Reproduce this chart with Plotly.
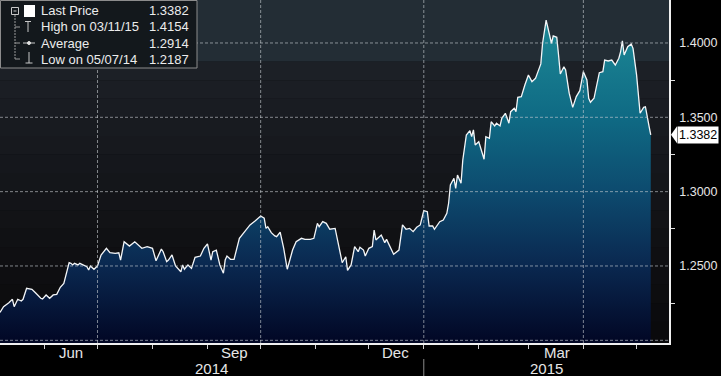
import numpy as np
import pandas as pd
import plotly.graph_objects as go

# ---------------- data ----------------
base_date = "2014-05-07"
# days since base_date
day_offsets = [
    0, 2, 5, 7, 8, 10, 12, 13, 15, 18,
    20, 23, 24, 26, 28, 30, 32, 34, 36, 39,
    40, 41, 42, 44, 45, 47, 49, 50, 51, 53,
    55, 57, 60, 62, 65, 67, 68, 70, 73, 76,
    77, 80, 83, 86, 88, 91, 92, 94, 95, 97,
    99, 102, 103, 104, 106, 108, 110, 113, 115, 117,
    119, 120, 122, 124, 126, 127, 128, 130, 132, 134,
    135, 138, 141, 144, 147, 149, 150, 151, 153, 155,
    156, 158, 160, 162, 165, 167, 170, 172, 175, 177,
    179, 180, 182, 184, 186, 189, 191, 193, 195, 196,
    198, 200, 202, 203, 205, 206, 208, 210, 211, 212,
    215, 217, 218, 220, 222, 225, 226, 227, 229, 231,
    233, 235, 237, 239, 241, 242, 244, 245, 248, 250,
    252, 253, 254, 256, 257, 258, 260, 261, 263, 265,
    266, 267, 268, 270, 272, 273, 274, 276, 277, 279,
    280, 282, 283, 285, 287, 288, 290, 291, 292, 294,
    296, 298, 300, 302, 305, 306, 308, 311, 312, 314,
    315, 316, 318, 319, 321, 323, 325, 327, 329, 331,
    332, 333, 335, 337, 338, 340, 341, 343, 345, 347,
    349, 350, 351, 352, 354, 356, 357, 359, 361, 363,
    364, 366, 367,
]
price = [
    1.2187, 1.2226, 1.2253, 1.2276, 1.2226, 1.2276, 1.2264, 1.2276, 1.2350, 1.2343,
    1.2320, 1.2283, 1.2278, 1.2305, 1.2283, 1.2305, 1.2309, 1.2357, 1.2383, 1.2522,
    1.2518, 1.2507, 1.2518, 1.2507, 1.2518, 1.2507, 1.2495, 1.2473, 1.2500, 1.2478,
    1.2500, 1.2574, 1.2619, 1.2589, 1.2585, 1.2589, 1.2540, 1.2663, 1.2634, 1.2663,
    1.2652, 1.2619, 1.2630, 1.2619, 1.2535, 1.2614, 1.2596, 1.2529, 1.2540, 1.2574,
    1.2500, 1.2461, 1.2507, 1.2478, 1.2507, 1.2484, 1.2558, 1.2567, 1.2619, 1.2648,
    1.2540, 1.2596, 1.2607, 1.2507, 1.2451, 1.2540, 1.2567, 1.2545, 1.2545, 1.2634,
    1.2686, 1.2731, 1.2776, 1.2805, 1.2836, 1.2821, 1.2753, 1.2764, 1.2724, 1.2702,
    1.2697, 1.2727, 1.2619, 1.2478, 1.2607, 1.2663, 1.2686, 1.2679, 1.2679, 1.2686,
    1.2787, 1.2764, 1.2798, 1.2787, 1.2747, 1.2753, 1.2641, 1.2522, 1.2562, 1.2470,
    1.2507, 1.2630, 1.2596, 1.2626, 1.2607, 1.2567, 1.2619, 1.2630, 1.2742, 1.2675,
    1.2708, 1.2657, 1.2679, 1.2630, 1.2579, 1.2607, 1.2693, 1.2776, 1.2747, 1.2753,
    1.2731, 1.2760, 1.2776, 1.2872, 1.2865, 1.2769, 1.2769, 1.2747, 1.2798, 1.2809,
    1.2854, 1.2922, 1.3045, 1.3090, 1.3022, 1.3112, 1.3056, 1.3213, 1.3381, 1.3410,
    1.3370, 1.3415, 1.3314, 1.3336, 1.3258, 1.3218, 1.3370, 1.3359, 1.3470, 1.3442,
    1.3460, 1.3442, 1.3493, 1.3527, 1.3460, 1.3538, 1.3561, 1.3538, 1.3635, 1.3639,
    1.3717, 1.3785, 1.3740, 1.3762, 1.3859, 1.3998, 1.4154, 1.3998, 1.4047, 1.4038,
    1.3919, 1.3791, 1.3840, 1.3818, 1.3662, 1.3567, 1.3639, 1.3679, 1.3807, 1.3751,
    1.3628, 1.3601, 1.3628, 1.3729, 1.3800, 1.3807, 1.3885, 1.3879, 1.3885, 1.3852,
    1.3897, 1.3941, 1.4015, 1.3919, 1.3975, 1.3993, 1.3964, 1.3785, 1.3527, 1.3567,
    1.3571, 1.3442, 1.3382,
]
assert len(day_offsets) == len(price)

legend_names = ["Last Price", "High on 03/11/15", "Average", "Low on 05/07/14"]
legend_values = [1.3382, 1.4154, 1.2914, 1.2187]

y_tick_vals = [1.25, 1.30, 1.35, 1.40]
y_minor_vals = [1.225, 1.275, 1.325, 1.375]
month_starts = ["2014-06-01", "2014-07-01", "2014-08-01", "2014-09-01", "2014-10-01",
                "2014-11-01", "2014-12-01", "2015-01-01", "2015-02-01", "2015-03-01",
                "2015-04-01", "2015-05-01"]
quarter_starts = ["2014-07-01", "2014-10-01", "2015-01-01", "2015-04-01"]
month_labels = ["Jun", "Sep", "Dec", "Mar"]
month_label_dates = ["2014-06-16", "2014-09-16", "2014-12-16", "2015-03-17"]
year_labels = ["2014", "2015"]
year_boundary = "2015-01-01"

# ---------------- layout geometry ----------------
W, H = 721, 376
ML, MR, MT, MB = 0, 52, 0, 33
PW, PH = W - ML - MR, H - MT - MB
x_range = [pd.Timestamp("2014-05-07"), pd.Timestamp("2015-05-19 07:00")]
y_range = [1.1982, 1.4289]
px_per_unit = PH / (y_range[1] - y_range[0])
px_per_day = PW / ((x_range[1] - x_range[0]) / pd.Timedelta(days=1))

def fx(p):
    return p / PW

def fy(p):
    return 1 - p / PH

dates = pd.Timestamp(base_date) + pd.to_timedelta(day_offsets, unit="D")

FONT = "Liberation Sans, Arial, sans-serif"
NARROW = "Liberation Sans Narrow, Arial Narrow, Liberation Sans, sans-serif"

fig = go.Figure()
fig.add_trace(go.Scatter(
    x=dates, y=price, mode="lines",
    line=dict(color="#f4f6f8", width=1.3),
    fill="tozeroy",
    fillgradient=dict(
        type="vertical", start=1.2, stop=1.42,
        colorscale=[[0.0, "#020826"], [0.23, "#0a2850"], [0.45, "#0d4a6e"],
                    [0.68, "#0f6a84"], [0.91, "#1a8292"], [1.0, "#1e8a98"]],
    ),
    hoverinfo="skip", showlegend=False,
))

# axis arrow heads (triangles) on the right axis
arrow_x = x_range[1] + pd.Timedelta(days=3.2 / px_per_day)
fig.add_trace(go.Scatter(
    x=[arrow_x] * 5, y=[1.2] + y_tick_vals, mode="markers",
    marker=dict(symbol="triangle-right", size=8, color="#f0f0f0"),
    cliponaxis=False, hoverinfo="skip", showlegend=False,
))

shapes = []
# background bands
edges = np.arange(1.2, 1.3875 + 1e-9, 0.0125)
for i in range(len(edges) - 1):
    lo = edges[i] if i > 0 else y_range[0]
    hi = edges[i + 1]
    mid = (edges[i] + hi) / 2
    r = np.interp(mid, [1.2, 1.25, 1.3875], [10, 15, 29])
    g = np.interp(mid, [1.2, 1.25, 1.3875], [10, 15, 33])
    b = np.interp(mid, [1.2, 1.25, 1.3875], [12, 18, 40])
    shapes.append(dict(type="rect", xref="paper", yref="y", x0=0, x1=1, y0=lo, y1=hi,
                       fillcolor=f"rgb({int(r)},{int(g)},{int(b)})", line=dict(width=0),
                       layer="below"))
shapes.append(dict(type="rect", xref="paper", yref="y", x0=0, x1=1, y0=1.3875, y1=y_range[1],
                   fillcolor="#232d35", line=dict(width=0), layer="below"))

grid_line = dict(color="rgba(200,205,210,0.62)", width=1, dash="3px,2px")
for v in [1.2] + y_tick_vals:
    shapes.append(dict(type="line", xref="paper", yref="y", x0=0, x1=1, y0=v, y1=v,
                       line=grid_line, layer="above"))
for d in quarter_starts:
    shapes.append(dict(type="line", xref="x", yref="paper", x0=d, x1=d, y0=0, y1=1,
                       line=grid_line, layer="above"))

# year separator below the axis
shapes.append(dict(type="line", xref="x", yref="paper", x0=year_boundary, x1=year_boundary,
                   y0=fy(359), y1=fy(377), line=dict(color="#8a8a8a", width=1)))

# legend box
leg_line = dict(color="#c8c8c8", width=1)
shapes += [
    dict(type="rect", xref="paper", yref="paper", x0=fx(0.5), x1=fx(197), y0=fy(0.5), y1=fy(68),
         fillcolor="#13181c", line=dict(color="#8c8c8c", width=1), layer="above"),
    dict(type="rect", xref="paper", yref="paper", x0=fx(11.5), x1=fx(18.5), y0=fy(7.5), y1=fy(14.5),
         line=leg_line, layer="above"),
    dict(type="line", xref="paper", yref="paper", x0=fx(13.5), x1=fx(16.5), y0=fy(11), y1=fy(11),
         line=leg_line, layer="above"),
    dict(type="line", xref="paper", yref="paper", x0=fx(15), x1=fx(15), y0=fy(15), y1=fy(59),
         line=dict(color="#9a9a9a", width=1, dash="2px,1px"), layer="above"),
]
for ry in [27, 43, 59]:
    shapes.append(dict(type="line", xref="paper", yref="paper", x0=fx(15), x1=fx(20), y0=fy(ry), y1=fy(ry),
                       line=dict(color="#9a9a9a", width=1), layer="above"))
shapes += [
    dict(type="rect", xref="paper", yref="paper", x0=fx(24), x1=fx(35), y0=fy(5), y1=fy(17),
         fillcolor="#ffffff", line=dict(width=0), layer="above"),
    dict(type="line", xref="paper", yref="paper", x0=fx(25), x1=fx(31), y0=fy(21.5), y1=fy(21.5),
         line=leg_line, layer="above"),
    dict(type="line", xref="paper", yref="paper", x0=fx(28), x1=fx(28), y0=fy(21.5), y1=fy(32),
         line=leg_line, layer="above"),
    dict(type="line", xref="paper", yref="paper", x0=fx(23), x1=fx(35), y0=fy(43), y1=fy(43),
         line=leg_line, layer="above"),
    dict(type="circle", xref="paper", yref="paper", x0=fx(27.5), x1=fx(30.5), y0=fy(41.5), y1=fy(44.5),
         fillcolor="#e0e0e0", line=dict(color="#e0e0e0", width=1), layer="above"),
    dict(type="line", xref="paper", yref="paper", x0=fx(29), x1=fx(29), y0=fy(52), y1=fy(63),
         line=leg_line, layer="above"),
    dict(type="line", xref="paper", yref="paper", x0=fx(25.5), x1=fx(32.5), y0=fy(63), y1=fy(63),
         line=leg_line, layer="above"),
]

# last price tag pointer
last = price[-1]
hpx = 8.5 / px_per_unit
shapes.append(dict(type="path", xref="paper", yref="y",
                   path=f"M {fx(671)} {last} L {fx(677)} {last + hpx} L {fx(677)} {last - hpx} Z",
                   fillcolor="#ffffff", line=dict(width=0)))

annotations = []
row_y = [11, 27, 43, 59]
for name, val, ry in zip(legend_names, legend_values, row_y):
    annotations.append(dict(xref="paper", yref="paper", x=fx(39), y=fy(ry), text=name,
                            xanchor="left", yanchor="middle", showarrow=False,
                            font=dict(family=FONT, size=13, color="#ececec")))
    annotations.append(dict(xref="paper", yref="paper", x=fx(191), y=fy(ry), text=f"{val:.4f}",
                            xanchor="right", yanchor="middle", showarrow=False,
                            font=dict(family=FONT, size=13, color="#ececec")))
for lab, d in zip(month_labels, month_label_dates):
    annotations.append(dict(xref="x", yref="paper", x=d, y=fy(352), text=lab,
                            xanchor="center", yanchor="middle", showarrow=False,
                            font=dict(family=NARROW, size=15, color="#e6e6e6")))
yb = pd.Timestamp(year_boundary)
year_centers = [x_range[0] + (yb - x_range[0]) / 2, yb + (x_range[1] - yb) / 2]
for lab, d in zip(year_labels, year_centers):
    annotations.append(dict(xref="x", yref="paper", x=d, y=fy(368), text=lab,
                            xanchor="center", yanchor="middle", showarrow=False,
                            font=dict(family=NARROW, size=15, color="#e6e6e6")))
annotations.append(dict(xref="paper", yref="y", x=fx(677), y=last, text=f"{last:.4f}",
                        xanchor="left", yanchor="middle", showarrow=False,
                        bgcolor="#ffffff", borderpad=1,
                        font=dict(family=FONT, size=12.5, color="#000000")))

fig.update_layout(
    width=W, height=H,
    margin=dict(l=ML, r=MR, t=MT, b=MB, pad=0),
    paper_bgcolor="#000000", plot_bgcolor="#0b0b0d",
    showlegend=False,
    shapes=shapes, annotations=annotations,
    xaxis=dict(
        type="date", range=x_range, showgrid=False, zeroline=False,
        showline=True, linecolor="#f0f0f0", linewidth=1.5,
        tickmode="array", tickvals=month_starts, ticktext=[""] * len(month_starts),
        ticks="outside", ticklen=4, tickcolor="#cfcfcf", tickwidth=1,
        fixedrange=True,
    ),
    yaxis=dict(
        side="right", range=y_range, showgrid=False, zeroline=False,
        showline=True, linecolor="#f0f0f0", linewidth=1.5,
        tickmode="array", tickvals=y_tick_vals, ticktext=[f"{v:.4f}" for v in y_tick_vals],
        ticks="outside", ticklen=6, tickcolor="rgba(0,0,0,0)",
        tickfont=dict(family=FONT, size=12.5, color="#e6e6e6"),
        minor=dict(tickmode="array", tickvals=y_minor_vals, ticks="outside", ticklen=4,
                   tickcolor="#e0e0e0", tickwidth=1),
        fixedrange=True,
    ),
)

fig.write_html(
    "out.html",
    config={"displayModeBar": False},
    post_script="document.body.style.margin='0';document.body.style.background='#000';",
)
